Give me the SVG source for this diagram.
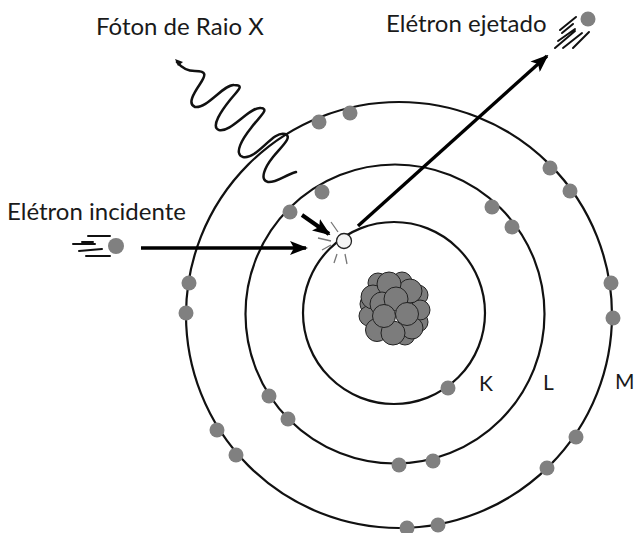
<svg xmlns="http://www.w3.org/2000/svg" width="636" height="533" viewBox="0 0 636 533">
<style>
.orbit{fill:none;stroke:#111;stroke-width:2.2}
.e{fill:#808080}
.n{fill:#7c7c7c;stroke:#222;stroke-width:1}
.t{font-family:Lato,"Liberation Sans",sans-serif;font-size:24px;fill:#1a1a1a}
.o{font-family:Lato,"Liberation Sans",sans-serif;font-size:21px;fill:#1a1a1a}
.s{stroke:#111;stroke-width:2;fill:none;stroke-linecap:round}
.a{stroke:#000;fill:none;stroke-width:3.400}
.spark{stroke:#777;stroke-width:1.3;fill:none}
</style>
<defs>
<marker id="head" markerUnits="userSpaceOnUse" markerWidth="18" markerHeight="14" refX="16" refY="7" orient="auto"><path d="M0 0L18 7L0 14L4 7Z" fill="#000"/></marker>
</defs>
<rect width="636" height="533" fill="#fff"/>
<g id="orbits">
<circle class="orbit" cx="394" cy="313" r="91"/>
<circle class="orbit" cx="395" cy="314" r="149.500"/>
<circle class="orbit" cx="399" cy="315" r="213"/>
</g>
<g id="connectors">
<path class="a" d="M141 248H306" marker-end="url(#head)"/>
<path d="M302 215L329 234" stroke="#000" stroke-width="4" fill="none" marker-end="url(#head)"/>
<path class="a" d="M358 226L547 56" marker-end="url(#head)"/>
<path d="M296 172C285 175 276 183 268 182C259 180 265 167 273 157C282 146 293 137 285 134C273 130 257 160 243 157C233 154 243 138 251 128C259 117 270 109 261 108C250 106 231 133 219 130C210 127 222 110 230 100C238 90 245 85 234 85C224 84 207 109 195 107C187 104 194 93 200 84C206 75 207 71 195 71C186 71 181 67 177 62" fill="none" stroke="#111" stroke-width="2.500" stroke-linecap="round"/>
<path d="M175 59L183 62L178 66Z" fill="#111"/>
</g>
<g id="electrons">
<circle class="e" cx="319" cy="122" r="7.500"/><circle class="e" cx="350" cy="113" r="7.500"/>
<circle class="e" cx="550" cy="168" r="7.500"/><circle class="e" cx="570" cy="191" r="7.500"/>
<circle class="e" cx="611" cy="283" r="7.500"/><circle class="e" cx="613" cy="318" r="7.500"/>
<circle class="e" cx="576" cy="437" r="7.500"/><circle class="e" cx="547" cy="468" r="7.500"/>
<circle class="e" cx="438" cy="525" r="7.500"/><circle class="e" cx="407" cy="528" r="7.500"/>
<circle class="e" cx="236" cy="455" r="7.500"/><circle class="e" cx="217" cy="430" r="7.500"/>
<circle class="e" cx="186" cy="313" r="7.500"/><circle class="e" cx="189" cy="283" r="7.500"/>
<circle class="e" cx="322" cy="192" r="7.500"/><circle class="e" cx="290" cy="212" r="7.500"/>
<circle class="e" cx="492" cy="207" r="7.500"/><circle class="e" cx="512" cy="227" r="7.500"/>
<circle class="e" cx="433" cy="461" r="7.500"/><circle class="e" cx="399" cy="465" r="7.500"/>
<circle class="e" cx="288" cy="419" r="7.500"/><circle class="e" cx="269" cy="396" r="7.500"/>
<circle class="e" cx="448" cy="388" r="7.500"/>
</g>
<g id="vacancy">
<circle cx="344" cy="241" r="7.500" fill="#f4f4f4" stroke="#222" stroke-width="1.300"/>
<path class="spark" d="M331 222L338 232M318 238L331 241M322 250L331 245M337 254L334 263M345 254L347 264"/>
</g>
<g id="nucleus">
<circle class="n" cx="418" cy="295" r="10"/><circle class="n" cx="418" cy="322" r="10"/>
<circle class="n" cx="405" cy="335" r="10"/><circle class="n" cx="378" cy="283" r="10"/>
<circle class="n" cx="402" cy="282" r="10"/><circle class="n" cx="370" cy="304" r="10"/>
<circle class="n" cx="420" cy="310" r="10"/><circle class="n" cx="412" cy="328" r="11"/>
<circle class="n" cx="369" cy="316" r="10"/><circle class="n" cx="377" cy="330" r="11.500"/>
<circle class="n" cx="373" cy="297" r="12"/><circle class="n" cx="410" cy="291" r="12"/>
<circle class="n" cx="389" cy="284" r="12"/><circle class="n" cx="393" cy="333" r="12"/>
<circle class="n" cx="382" cy="304" r="12"/><circle class="n" cx="396" cy="299" r="12"/>
<circle class="n" cx="384" cy="316" r="11.500"/><circle class="n" cx="407" cy="314" r="11.500"/>
</g>
<g id="incident-electron">
<circle class="e" cx="116" cy="246" r="8"/>
<path class="s" d="M88 236H110M73 244H95M82 242H93M79 251L102 249M86 256H110"/>
</g>
<g id="ejected-electron">
<circle class="e" cx="588" cy="19" r="7.500"/>
<path class="s" d="M576 17L560 30M573 24L562 33M575 29L558 41M575 31L555 48M582 33L563 48M589 32L573 48"/>
</g>
<g id="labels">
<text class="t" x="96" y="35">Fóton de Raio X</text>
<text class="t" x="386" y="32">Elétron ejetado</text>
<text class="t" x="7" y="220">Elétron incidente</text>
<text class="o" x="479" y="391">K</text>
<text class="o" x="543" y="390">L</text>
<text class="o" x="615" y="389">M</text>
</g>
</svg>
